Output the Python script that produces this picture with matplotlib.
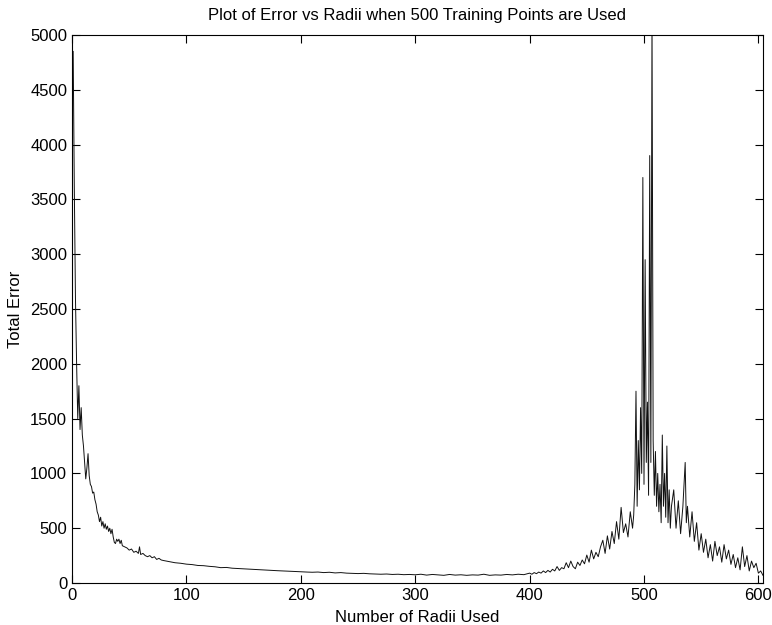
import matplotlib
matplotlib.use("Agg")
import matplotlib.pyplot as plt

# number of radii (x) and total error (y)
radii = [1, 2, 3, 4, 5, 6, 7, 8, 9, 10, 11, 12, 13, 14, 15, 16, 17, 18, 19, 20,
         21, 22, 23, 24, 25, 26, 27, 28, 29, 30, 31, 32, 33, 34, 35, 36, 37, 38, 39, 40,
         41, 42, 43, 44, 46, 48, 50, 52, 54, 56, 58, 59, 60, 62, 64, 66, 68, 70, 72, 74,
         76, 78, 80, 85, 90, 95, 100, 105, 110, 115, 120, 125, 130, 135, 140, 145, 150,
         155, 160, 165, 170, 175, 180, 185, 190, 195, 200, 205, 210, 215, 220, 225, 230,
         235, 240, 245, 250, 255, 260, 265, 270, 275, 280, 285, 290, 295, 300, 305, 310,
         315, 320, 325, 330, 335, 340, 345, 350, 355, 360, 365, 370, 375, 380, 385, 390,
         395, 400, 402, 404, 406, 408, 410, 412, 414, 416, 418, 420, 422, 424, 426, 428,
         430, 432, 434, 436, 438, 440, 442, 444, 446, 448, 450, 452, 454, 456, 458, 460,
         462, 464, 466, 468, 470, 472, 474, 476, 478, 480, 482, 484, 486, 488, 490, 491,
         492, 493, 494, 495, 496, 497, 498, 499, 500, 501, 502, 503, 504, 505, 506, 507,
         508, 509, 510, 511, 512, 513, 514, 515, 516, 517, 518, 519, 520, 521, 522, 523,
         524, 526, 528, 530, 532, 534, 536, 537, 538, 540, 542, 544, 546, 548, 550, 552,
         554, 556, 558, 560, 562, 564, 566, 568, 570, 572, 574, 576, 578, 580, 582, 584,
         586, 588, 590, 592, 594, 596, 598, 600, 602, 604]
total_error = [4850, 3600, 2600, 2000, 1500, 1800, 1400, 1600, 1350, 1250, 1100, 950, 1050,
               1180, 980, 900, 880, 820, 830, 760, 720, 650, 620, 560, 600, 520, 560, 500,
               540, 490, 520, 470, 500, 450, 490, 420, 370, 360, 400, 380, 400, 360, 390,
               340, 330, 320, 300, 310, 280, 290, 270, 330, 260, 270, 250, 240, 250, 230,
               240, 215, 225, 210, 205, 195, 185, 180, 172, 168, 160, 158, 152, 148, 140,
               142, 135, 132, 128, 125, 122, 120, 118, 115, 112, 110, 108, 105, 102, 100,
               98, 100, 95, 98, 92, 95, 90, 88, 86, 88, 84, 82, 80, 82, 78, 80, 76, 78, 75,
               80, 72, 78, 74, 70, 78, 72, 75, 70, 74, 72, 80, 70, 74, 72, 78, 74, 80, 76,
               90, 80, 95, 85, 100, 90, 110, 95, 115, 100, 125, 110, 150, 115, 140, 130, 185,
               140, 200, 150, 130, 190, 160, 210, 175, 255, 190, 300, 220, 280, 240, 330,
               390, 270, 430, 310, 470, 360, 560, 400, 690, 460, 540, 420, 650, 500, 620,
               900, 1750, 700, 1300, 850, 1600, 1000, 3700, 900, 2950, 1100, 1650, 800,
               3900, 1100, 5200, 1300, 800, 1200, 700, 1000, 650, 900, 550, 1350, 700,
               1000, 600, 1250, 550, 850, 500, 700, 850, 500, 750, 450, 700, 1100, 550, 700,
               420, 650, 380, 550, 300, 450, 280, 400, 230, 350, 200, 380, 250, 330, 190,
               350, 220, 300, 170, 260, 140, 230, 120, 330, 150, 250, 110, 200, 140, 180,
               90, 110, 70]

x_ticks = [0, 100, 200, 300, 400, 500, 600]
y_ticks = [0, 500, 1000, 1500, 2000, 2500, 3000, 3500, 4000, 4500, 5000]

plt.rcParams['font.family'] = ['Liberation Sans', 'DejaVu Sans']

fig = plt.figure(figsize=(7.72, 6.25), dpi=100)
ax = fig.add_axes([0.0933, 0.0672, 0.895, 0.8768])
ax.plot(radii, total_error, color='#111111', linewidth=0.7)
ax.set_xlim(0, 604)
ax.set_ylim(0, 5000)
ax.set_xticks(x_ticks)
ax.set_yticks(y_ticks)
ax.tick_params(direction='in', length=6, top=True, right=True, labelsize=12, width=0.8)
for sp in ax.spines.values():
    sp.set_linewidth(0.8)
ax.set_title('Plot of Error vs Radii when 500 Training Points are Used', fontsize=12, pad=11)
ax.set_xlabel('Number of Radii Used', fontsize=12, labelpad=5)
ax.set_ylabel('Total Error', fontsize=12, labelpad=5)

fig.savefig('out.png', dpi=100)
